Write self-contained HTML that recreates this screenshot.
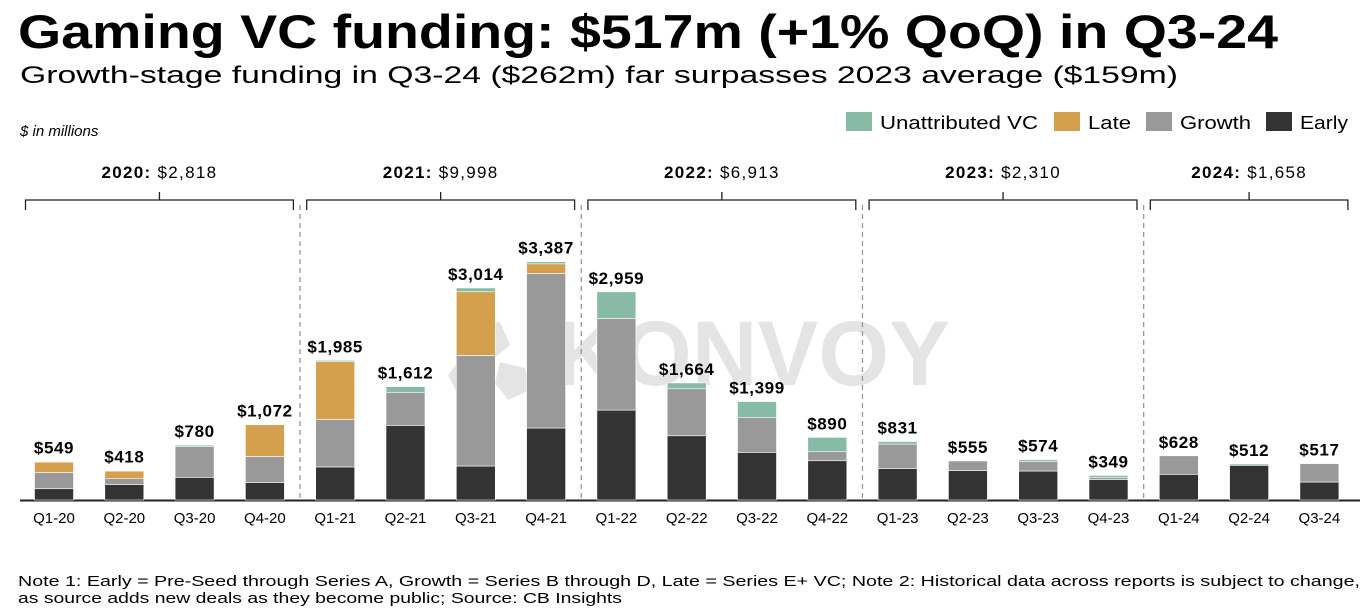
<!DOCTYPE html>
<html><head><meta charset="utf-8"><style>
body{margin:0;width:1366px;height:608px;background:#fff;overflow:hidden;font-family:"Liberation Sans",sans-serif;}
svg{position:absolute;left:0;top:0}
</style></head><body>
<svg width="1366" height="608" id="c">
<text x="18" y="48" font-size="47" font-weight="bold" fill="#000" textLength="1260" lengthAdjust="spacingAndGlyphs">Gaming VC funding: $517m (+1% QoQ) in Q3-24</text>
<text x="20" y="83" font-size="24.5" fill="#000" textLength="1158" lengthAdjust="spacingAndGlyphs">Growth-stage funding in Q3-24 ($262m) far surpasses 2023 average ($159m)</text>
<text x="20" y="136" font-size="15" font-style="italic" fill="#000">$ in millions</text>
<g opacity="0.1">
<polygon points="470,325 500,322 510,345 492,360 465,352" fill="#000"/>
<polygon points="460,360 490,365 485,390 458,395 448,375" fill="#000"/>
<polygon points="500,362 525,368 530,390 508,400 495,383" fill="#000"/>
<text x="555" y="385" font-size="92" font-weight="bold" fill="#000" textLength="395" lengthAdjust="spacingAndGlyphs">KONVOY</text>
</g>
<g>
<rect x="846" y="112" width="26" height="19" fill="#88bba6"/>
<text x="880" y="129" font-size="18" textLength="158" lengthAdjust="spacingAndGlyphs">Unattributed VC</text>
<rect x="1054" y="112" width="26" height="19" fill="#d4a04d"/>
<text x="1088" y="129" font-size="18" textLength="43" lengthAdjust="spacingAndGlyphs">Late</text>
<rect x="1146" y="112" width="26" height="19" fill="#999999"/>
<text x="1180" y="129" font-size="18" textLength="71" lengthAdjust="spacingAndGlyphs">Growth</text>
<rect x="1266" y="112" width="26" height="19" fill="#333333"/>
<text x="1300" y="129" font-size="18" textLength="48" lengthAdjust="spacingAndGlyphs">Early</text>
</g>
<line x1="20" y1="500.5" x2="1360" y2="500.5" stroke="#222" stroke-width="2"/>
<text x="18" y="586" font-size="15" textLength="1342" lengthAdjust="spacingAndGlyphs">Note 1: Early = Pre-Seed through Series A, Growth = Series B through D, Late = Series E+ VC; Note 2: Historical data across reports is subject to change,</text>
<text x="18" y="603" font-size="15" textLength="604" lengthAdjust="spacingAndGlyphs">as source adds new deals as they become public; Source: CB Insights</text>
</svg>
<script>
const categories=["Q1-20","Q2-20","Q3-20","Q4-20","Q1-21","Q2-21","Q3-21","Q4-21","Q1-22","Q2-22","Q3-22","Q4-22","Q1-23","Q2-23","Q3-23","Q4-23","Q1-24","Q2-24","Q3-24"];
const early=[160,218,322,246,470,1061,483,1023,1278,913,677,558,445,417,412,289,365,493,255];
const growth=[230,85,436,374,672,464,1572,2197,1302,668,493,128,350,138,133,28,263,0,262];
const late=[150,109,0,450,824,0,905,137,0,0,0,0,0,0,0,0,0,0,0];
const unattributed=[9,6,22,2,19,87,54,30,379,83,229,204,36,0,29,32,0,19,0];
const totalLabels=["$549","$418","$780","$1,072","$1,985","$1,612","$3,014","$3,387","$2,959","$1,664","$1,399","$890","$831","$555","$574","$349","$628","$512","$517"];
const yearLabels=["2020:","2021:","2022:","2023:","2024:"];
const yearTotals=["$2,818","$9,998","$6,913","$2,310","$1,658"];
const yearCounts=[4,4,4,4,3];

const NS="http://www.w3.org/2000/svg";
const svg=document.getElementById('c');
const base=500, k=238.3/3387, x0=54, step=70.3, bw=39;
const xs=i=>x0+i*step;
const ys=v=>v*k;
function el(t,a){const e=document.createElementNS(NS,t);for(const n in a)e.setAttribute(n,a[n]);svg.appendChild(e);return e;}
const series=[[early,"#333333","early"],[growth,"#999999","growth"],[late,"#d4a04d","late"],[unattributed,"#88bba6","unattributed"]];
categories.forEach((c,i)=>{
  let acc=0;
  series.forEach(([arr,col,nm])=>{
    const v=arr[i]; if(v<=0) return;
    const r=el('rect',{x:xs(i)-bw/2,y:base-ys(acc+v),width:bw,height:ys(v),fill:col,stroke:"#fff","stroke-width":0.6});
    
    
    acc+=v;
  });
  const t=el('text',{x:xs(i),y:base-ys(acc)-8,"font-size":17,"font-weight":"bold","text-anchor":"middle","letter-spacing":"0.6"});
  t.textContent=totalLabels[i];
  
  
  const l=el('text',{x:xs(i),y:523,"font-size":15,"text-anchor":"middle"});
  l.textContent=c;
  
  
});
let start=0;
yearLabels.forEach((y,g)=>{
  const n=yearCounts[g];
  const left=xs(start)-bw/2-9, right=xs(start+n-1)+bw/2+9;
  const mid=(left+right)/2;
  const b=el('path',{d:`M${left} 210 V200 H${right} V210 M${mid} 200 V192`,fill:"none",stroke:"#222","stroke-width":1.3});
  
  
  const t=el('text',{x:mid,y:178,"font-size":17,"text-anchor":"middle","letter-spacing":"1.3"});
  t.innerHTML='<tspan font-weight="bold">'+y+'</tspan> '+yearTotals[g];
  
  
  if(g<yearLabels.length-1){
    const sx=(xs(start+n-1)+xs(start+n))/2;
    const d=el('line',{x1:sx,y1:205,x2:sx,y2:500,stroke:"#999","stroke-dasharray":"5,4","stroke-width":1.3});
    
    
  }
  start+=n;
});
</script>
</body></html>
